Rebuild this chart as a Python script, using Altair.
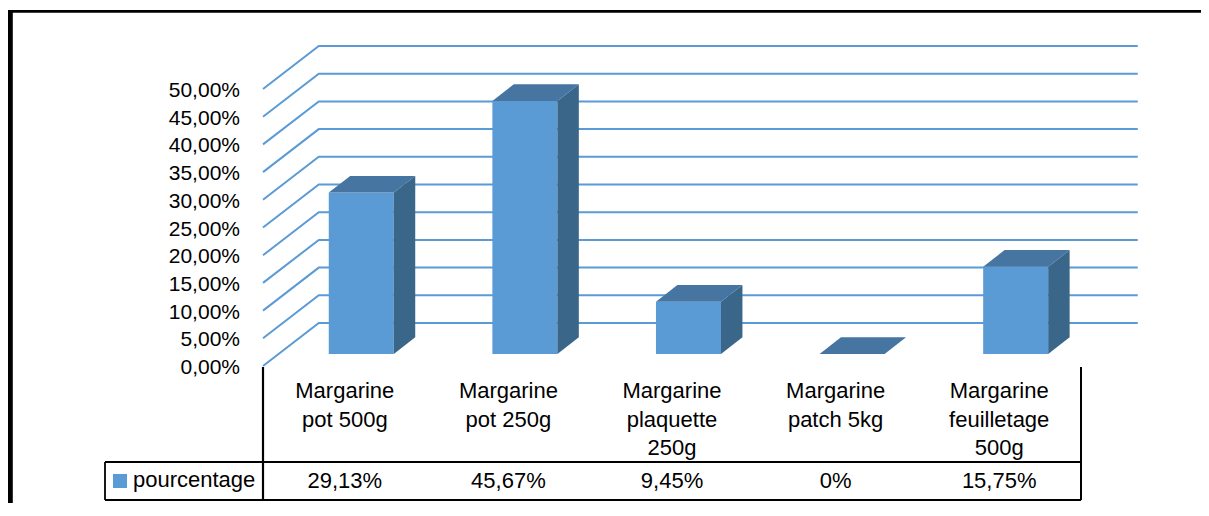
import altair as alt
import pandas as pd

# ---------------- data ----------------
categories = ["Margarine pot 500g", "Margarine pot 250g", "Margarine plaquette 250g",
              "Margarine patch 5kg", "Margarine feuilletage 500g"]
category_lines = ["Margarine\npot 500g", "Margarine\npot 250g", "Margarine\nplaquette\n250g",
                  "Margarine\npatch 5kg", "Margarine\nfeuilletage\n500g"]
values = [29.13, 45.67, 9.45, 0.0, 15.75]
value_labels = ["29,13%", "45,67%", "9,45%", "0%", "15,75%"]
tick_values = [0, 5, 10, 15, 20, 25, 30, 35, 40, 45, 50]
tick_labels = ["0,00%", "5,00%", "10,00%", "15,00%", "20,00%", "25,00%",
               "30,00%", "35,00%", "40,00%", "45,00%", "50,00%"]
series_name = "pourcentage"

# ---------------- 3D styling constants (in scale units) ----------------
BAR_L, BAR_R = -0.098, 0.2995   # bar front face relative to category centre
DX, DY = 0.131, 3.0             # bar depth offset
BASE = 2.17                     # bar front face floor (value units)
WALL_X0, WALL_X1, WALL_X2, WALL_DY = -0.5, -0.159, 4.847, 7.76

FRONT = "#5B9BD5"
SIDE = "#3A6689"
TOP = "#4675A2"
GRID = "#5B9BD5"
FONT = "Liberation Sans"
FS = 21
FS2 = 22

xs = alt.Scale(domain=[-0.5, 4.5], range=[255, 1073], zero=False, nice=False)
ys = alt.Scale(domain=[0, 50], range=[358, 81], zero=False, nice=False)

# ---------------- tables ----------------
front = pd.DataFrame({
    "idx": range(len(values)),
    "x": [i + BAR_L for i in range(len(values))],
    "x2": [i + BAR_R for i in range(len(values))],
    "y": [BASE] * len(values),
    "y2": [BASE + v for v in values],
    "cat": categories,
})

side_rows, top_rows = [], []
for i, v in enumerate(values):
    side_rows.append({"idx": i, "x": i + BAR_R, "lo": BASE, "hi": BASE + v})
    side_rows.append({"idx": i, "x": i + BAR_R + DX, "lo": BASE + DY, "hi": BASE + v + DY})
    top_rows.append({"idx": i, "y": BASE + v, "xl": i + BAR_L, "xr": i + BAR_R})
    top_rows.append({"idx": i, "y": BASE + v + DY, "xl": i + BAR_L + DX, "xr": i + BAR_R + DX})
side = pd.DataFrame(side_rows)
top = pd.DataFrame(top_rows)

grid_rows = []
for t in tick_values:
    grid_rows.append({"t": t, "o": 0, "x": WALL_X0, "y": t})
    grid_rows.append({"t": t, "o": 1, "x": WALL_X1, "y": t + WALL_DY})
    grid_rows.append({"t": t, "o": 2, "x": WALL_X2, "y": t + WALL_DY})
grid = pd.DataFrame(grid_rows)

ticks = pd.DataFrame({"t": tick_values, "label": tick_labels})
cats = pd.DataFrame({"idx": range(len(values)), "lab": category_lines, "val": value_labels})
one = pd.DataFrame({"k": [0]})

# ---------------- layers ----------------
grid_layer = alt.Chart(grid).mark_line(color=GRID, strokeWidth=2).encode(
    x=alt.X("x:Q", scale=xs, axis=None),
    y=alt.Y("y:Q", scale=ys, axis=None),
    detail="t:N",
    order="o:Q",
)

front_layer = alt.Chart(front).mark_rect(color=FRONT).encode(
    x=alt.X("x:Q", scale=xs, axis=None), x2="x2:Q",
    y=alt.Y("y:Q", scale=ys, axis=None), y2="y2:Q",
)

side_layer = alt.Chart(side).mark_area(orient="vertical", color=SIDE).encode(
    x=alt.X("x:Q", scale=xs, axis=None),
    y=alt.Y("lo:Q", scale=ys, axis=None), y2="hi:Q",
    detail="idx:N",
)

top_layer = alt.Chart(top).mark_area(orient="horizontal", color=TOP).encode(
    y=alt.Y("y:Q", scale=ys, axis=None),
    x=alt.X("xl:Q", scale=xs, axis=None), x2="xr:Q",
    detail="idx:N",
)

ylab_layer = alt.Chart(ticks).mark_text(
    align="right", baseline="alphabetic", dy=8, font=FONT, fontSize=FS, color="#000000"
).encode(
    x=alt.value(232),
    y=alt.Y("t:Q", scale=ys, axis=None),
    text="label:N",
)

cat_layer = alt.Chart(cats).mark_text(
    align="center", baseline="alphabetic", lineBreak="\n", lineHeight=28.5,
    font=FONT, fontSize=FS2, color="#000000"
).encode(
    x=alt.X("idx:Q", scale=xs, axis=None),
    y=alt.value(390),
    text="lab:N",
)

val_layer = alt.Chart(cats).mark_text(
    align="center", baseline="alphabetic", font=FONT, fontSize=FS2, color="#000000"
).encode(
    x=alt.X("idx:Q", scale=xs, axis=None),
    y=alt.value(480),
    text="val:N",
)


def rule(x, x2, y, y2, w=2, color="black"):
    return alt.Chart(one).mark_rule(color=color, strokeWidth=w).encode(
        x=alt.value(x), x2=alt.value(x2), y=alt.value(y), y2=alt.value(y2)
    )


def box(x, x2, y, y2, color):
    return alt.Chart(one).mark_rect(color=color).encode(
        x=alt.value(x), x2=alt.value(x2), y=alt.value(y), y2=alt.value(y2)
    )


table = [
    rule(97, 1073, 454, 454, 1.8),
    rule(97, 1073, 492, 492, 1.8),
    rule(97, 97, 454, 492, 1.8),
    rule(255, 255, 359, 492, 2.2),
    rule(1073, 1073, 359, 492, 2),
]

legend_key = box(105, 119, 466, 480, FRONT)
legend_text = alt.Chart(pd.DataFrame({"s": [series_name]})).mark_text(
    align="left", baseline="alphabetic", font=FONT, fontSize=FS2, color="#000000"
).encode(x=alt.value(125), y=alt.value(479), text="s:N")

frame = [
    box(0, 1193, 2, 4.8, "black"),
    box(0, 4.8, 2, 495, "black"),
]

chart = alt.layer(
    grid_layer, front_layer, side_layer, top_layer,
    ylab_layer, cat_layer, val_layer,
    *table, legend_key, legend_text, *frame,
).properties(
    width=1193, height=495,
    autosize=alt.AutoSizeParams(type="none"),
    padding=0,
    background="white",
).configure_view(strokeWidth=0)

chart.save("out.html", embed_options={"renderer": "svg", "actions": False})
